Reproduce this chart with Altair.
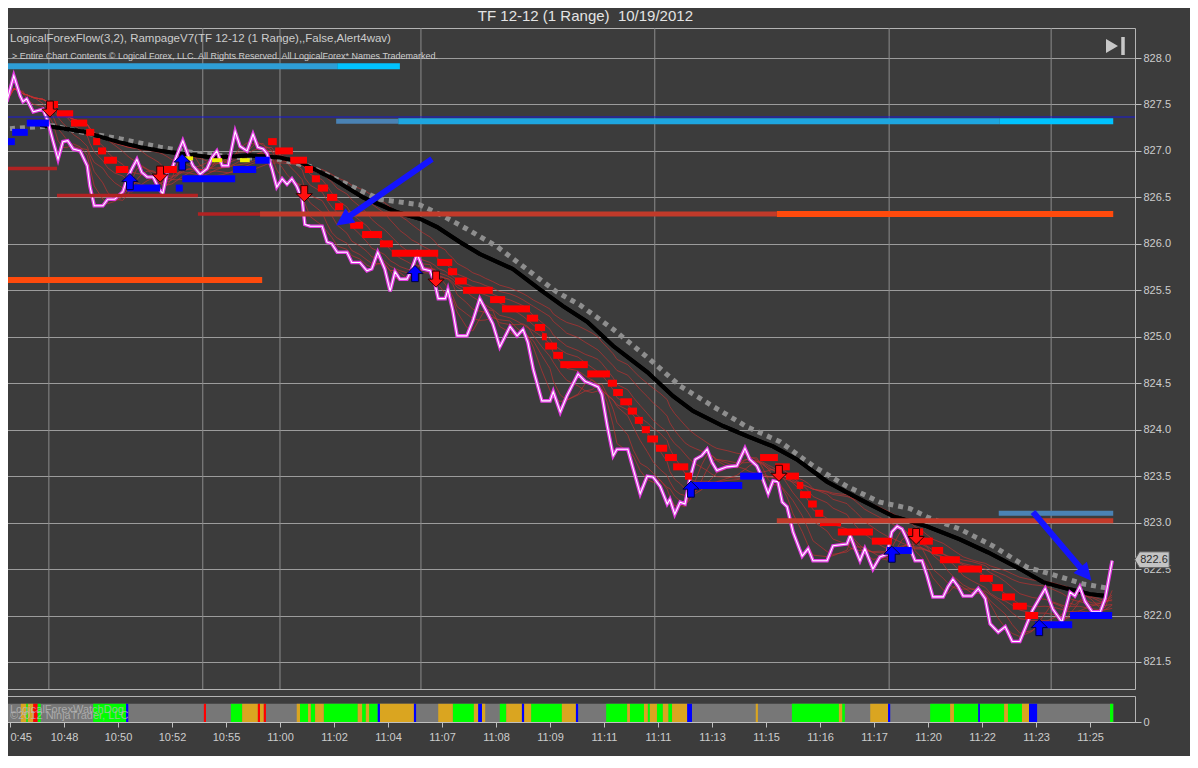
import altair as alt
import pandas as pd

# x = range-bar number (one label every 10 bars), y = price
time_labels = ["0:45", "10:48", "10:50", "10:52", "10:55", "11:00", "11:02", "11:04",
               "11:07", "11:08", "11:09", "11:11", "11:11", "11:13", "11:15", "11:16",
               "11:17", "11:20", "11:22", "11:23", "11:25"]
label_bars = list(range(0, 201, 10))
price_ticks = [821.5, 822.0, 822.5, 823.0, 823.5, 824.0, 824.5, 825.0, 825.5,
               826.0, 826.5, 827.0, 827.5, 828.0]
time_grid = [7.2, 35.7, 50.0, 76.1, 119.4, 162.8, 192.8]

price_path = [
    (-0.6, 827.53), (0.7, 827.81), (1.9, 827.59), (2.4, 827.53), (3.1, 827.56), (4.3, 827.42),
    (6.1, 827.45), (7.0, 827.32), (8.0, 827.10), (8.9, 826.91), (9.8, 827.10), (10.7, 827.11),
    (11.7, 827.02), (13.0, 827.00), (14.3, 826.84), (14.8, 826.62), (15.6, 826.41), (17.2, 826.41),
    (18.1, 826.48), (19.4, 826.48), (20.9, 826.56), (21.7, 826.70), (22.6, 826.81), (23.5, 826.91),
    (24.4, 826.77), (25.4, 826.72), (26.5, 826.72), (27.6, 826.59), (28.3, 826.54), (29.1, 826.77),
    (30.0, 826.81), (30.9, 826.95), (32.0, 827.11), (33.0, 826.95), (33.9, 826.84), (35.2, 826.75),
    (36.5, 826.81), (37.4, 826.93), (38.3, 827.00), (39.3, 826.84), (40.4, 826.84), (41.7, 827.21),
    (42.6, 827.05), (43.9, 827.00), (45.0, 827.18), (45.9, 827.04), (46.9, 827.02), (47.6, 826.97),
    (48.5, 826.81), (49.4, 826.61), (50.4, 826.70), (51.3, 826.64), (52.2, 826.70), (53.1, 826.62),
    (54.1, 826.48), (54.6, 826.21), (55.6, 826.19), (57.8, 826.19), (58.7, 826.02), (59.6, 826.00),
    (60.6, 825.91), (62.4, 825.91), (63.3, 825.80), (64.8, 825.80), (66.1, 825.71), (67.0, 825.73),
    (68.1, 825.91), (69.4, 825.73), (70.4, 825.49), (71.3, 825.70), (72.2, 825.62), (73.5, 825.62),
    (74.4, 825.73), (75.4, 825.89), (76.5, 825.73), (77.8, 825.71), (78.7, 825.57), (79.3, 825.41),
    (80.6, 825.41), (81.1, 825.51), (82.0, 825.28), (82.8, 825.01), (84.6, 825.01), (85.7, 825.17),
    (87.0, 825.41), (88.0, 825.30), (89.4, 825.14), (90.7, 824.89), (92.6, 825.11), (93.9, 825.01),
    (95.0, 825.08), (95.9, 824.94), (96.9, 824.65), (98.5, 824.31), (100.0, 824.31), (100.6, 824.41),
    (101.9, 824.19), (103.1, 824.36), (105.2, 824.60), (106.5, 824.52), (107.8, 824.49), (108.9, 824.46),
    (109.6, 824.38), (110.6, 824.04), (111.7, 823.72), (112.4, 823.79), (114.4, 823.79), (115.4, 823.58),
    (116.7, 823.31), (118.0, 823.50), (119.1, 823.49), (120.4, 823.39), (121.7, 823.20), (122.2, 823.25),
    (123.1, 823.09), (124.1, 823.22), (125.0, 823.20), (125.9, 823.47), (126.9, 823.68), (128.1, 823.72),
    (129.1, 823.79), (130.0, 823.65), (130.9, 823.56), (132.8, 823.60), (134.6, 823.61), (136.1, 823.80),
    (137.0, 823.68), (138.3, 823.61), (139.4, 823.47), (140.4, 823.31), (141.3, 823.45), (142.2, 823.44),
    (143.0, 823.22), (143.9, 823.17), (145.0, 822.90), (146.7, 822.64), (147.8, 822.72), (148.7, 822.59),
    (151.3, 822.59), (152.4, 822.75), (155.0, 822.77), (155.6, 822.86), (156.5, 822.72), (157.4, 822.59),
    (158.3, 822.72), (159.8, 822.50), (161.1, 822.63), (162.4, 822.66), (163.3, 822.90), (164.3, 822.96),
    (165.2, 822.93), (166.1, 822.82), (167.0, 822.68), (167.6, 822.59), (168.9, 822.59), (169.8, 822.43),
    (170.9, 822.20), (172.8, 822.20), (173.7, 822.31), (174.6, 822.39), (175.6, 822.31), (176.5, 822.21),
    (178.1, 822.21), (179.3, 822.29), (180.6, 822.18), (181.5, 821.91), (183.0, 821.82), (184.3, 821.88),
    (185.6, 821.72), (187.0, 821.72), (189.3, 822.05), (191.7, 822.29), (193.1, 822.07), (194.8, 821.93),
    (195.7, 822.12), (196.3, 822.25), (197.2, 822.21), (198.1, 822.31), (199.1, 822.15), (200.4, 822.04),
    (201.9, 822.04), (202.8, 822.18), (204.1, 822.59),
]

fast_ma = [
    (5.6, 827.28), (13.5, 827.21), (19.8, 827.10), (24.1, 827.04), (29.1, 826.99), (37.6, 826.93),
    (44.4, 826.95), (50.0, 826.93), (53.7, 826.88), (59.8, 826.70), (65.4, 826.50), (71.7, 826.34),
    (75.9, 826.27), (79.1, 826.18), (83.3, 826.02), (87.0, 825.89), (93.1, 825.73), (98.1, 825.51),
    (102.4, 825.33), (106.9, 825.16), (111.7, 824.90), (118.0, 824.62), (122.8, 824.36), (126.5, 824.20),
    (132.0, 824.04), (136.5, 823.93), (141.3, 823.82), (145.7, 823.68), (151.3, 823.44), (157.4, 823.25),
    (163.5, 823.07), (169.8, 822.96), (175.9, 822.82), (181.1, 822.68), (187.4, 822.49), (191.3, 822.36),
    (195.7, 822.29), (200.0, 822.23), (203.1, 822.21),
]

slow_ma = [
    (0.0, 827.24), (8.0, 827.27), (13.5, 827.20), (20.4, 827.13), (27.8, 827.04), (35.2, 826.97),
    (42.6, 826.93), (50.0, 826.91), (55.6, 826.83), (62.4, 826.64), (68.5, 826.48), (75.9, 826.42),
    (80.2, 826.30), (84.6, 826.16), (90.2, 825.97), (96.3, 825.70), (101.3, 825.48), (105.6, 825.34),
    (111.7, 825.08), (118.0, 824.78), (124.1, 824.47), (130.2, 824.25), (136.5, 824.03), (142.6, 823.87),
    (148.7, 823.61), (155.0, 823.39), (161.1, 823.22), (166.7, 823.15), (169.8, 823.06), (175.9, 822.93),
    (182.0, 822.75), (188.3, 822.52), (193.1, 822.44), (198.7, 822.34), (203.7, 822.29),
]

# trailing stop blocks: (first bar, last bar, level)
trail_short = [
    (6.9, 8.9, 827.5), (8.7, 11.7, 827.4), (11.3, 14.3, 827.3), (14.1, 15.6, 827.2), (15.4, 16.7, 827.1),
    (16.3, 17.8, 827.0), (17.4, 19.8, 826.9), (19.6, 21.9, 826.8), (28.1, 30.9, 826.8), (47.8, 49.4, 827.1),
    (49.1, 52.4, 827.0), (51.9, 55.0, 826.9), (54.6, 56.1, 826.8), (55.9, 57.4, 826.7), (57.0, 58.9, 826.6),
    (58.7, 60.6, 826.5), (60.2, 61.7, 826.4), (61.5, 63.3, 826.3), (63.0, 65.4, 826.2), (65.2, 68.9, 826.1),
    (68.5, 70.9, 826.0), (70.7, 79.3, 825.9), (79.1, 81.9, 825.8), (81.1, 82.8, 825.7), (82.4, 84.6, 825.6),
    (83.9, 89.4, 825.5), (88.9, 91.7, 825.4), (91.1, 96.3, 825.3), (95.7, 97.8, 825.2), (97.2, 99.1, 825.1),
    (98.5, 99.4, 825.0), (99.1, 101.3, 824.9), (100.6, 102.4, 824.8), (101.9, 107.0, 824.7),
    (106.9, 111.1, 824.6), (110.7, 112.4, 824.5), (111.7, 113.5, 824.4), (113.0, 115.2, 824.3),
    (114.4, 116.1, 824.2), (115.7, 117.2, 824.1), (117.0, 118.5, 824.0), (118.0, 120.0, 823.9),
    (119.6, 121.7, 823.8), (121.3, 123.5, 823.7), (122.8, 125.6, 823.6), (125.0, 126.3, 823.5),
    (138.9, 142.2, 823.7), (141.7, 144.4, 823.6), (143.7, 146.1, 823.5), (145.7, 146.9, 823.4),
    (146.3, 148.3, 823.3), (147.8, 149.4, 823.2), (149.1, 150.6, 823.1), (150.0, 153.9, 823.0),
    (153.3, 159.8, 822.9), (159.6, 163.3, 822.8), (166.3, 169.1, 822.9), (168.5, 170.9, 822.8),
    (170.7, 172.8, 822.7), (172.2, 175.9, 822.6), (175.6, 180.0, 822.5), (179.6, 182.0, 822.4),
    (181.9, 183.9, 822.3), (183.7, 186.1, 822.2), (185.7, 188.3, 822.1), (188.0, 190.4, 822.0),
]
trail_long = [
    (-0.6, 0.9, 827.1), (0.4, 3.3, 827.2), (3.1, 7.2, 827.3), (21.7, 27.8, 826.6), (30.7, 32.0, 826.6),
    (31.9, 41.7, 826.7), (41.3, 45.6, 826.8), (45.4, 48.1, 826.9), (125.9, 135.6, 823.4),
    (135.2, 139.3, 823.5), (162.4, 167.0, 822.7), (189.8, 196.7, 821.9), (196.3, 204.1, 822.0),
]
# small yellow dashes of the flow indicator
flow_marks = [(31.9, 33.9, 826.92), (37.4, 39.3, 826.90), (42.6, 44.4, 826.90)]

sell_signals = [(7.4, 827.45), (27.8, 826.75), (54.5, 826.54), (78.9, 825.62), (142.4, 823.53), (167.8, 822.85)]
buy_signals = [(22.2, 826.67), (31.9, 826.88), (75.0, 825.68), (126.1, 823.36), (163.3, 822.66), (190.6, 821.87)]

# horizontal levels: (from bar, to bar, price, kind)
levels = [
    (-1.6, 208.33, 827.365, "navy"),
    (-0.4, 60.6, 827.91, "sky"), (60.6, 72.2, 827.91, "cyan"),
    (60.4, 71.9, 827.32, "steel"), (71.9, 183.3, 827.32, "deepsky"), (183.3, 204.3, 827.32, "cyan"),
    (-0.4, 8.7, 826.81, "darkred"), (8.7, 34.8, 826.52, "darkred"), (34.8, 46.3, 826.32, "darkred"),
    (46.3, 142.0, 826.32, "brick"), (142.0, 204.3, 826.32, "orangered"),
    (-0.4, 46.7, 825.61, "orangered"),
    (142.0, 204.3, 823.02, "brick"), (183.1, 204.3, 823.10, "steel"),
]
level_style = {
    "navy": ("#1818d8", 1.2), "sky": ("#2e9ed6", 6), "cyan": ("#00c3ff", 6), "steel": ("#4a82b4", 5),
    "deepsky": ("#1ea6e0", 6), "darkred": ("#b22222", 3.5), "brick": ("#c23a2a", 5), "orangered": ("#ff4a0c", 6),
}

# hand-drawn annotation arrows: start and head of each
note_arrow_1 = [(78.15, 826.913), (61.96, 826.262)]
note_arrow_2 = [(189.44, 823.114), (199.04, 822.459)]

last_price = 822.6

# watchdog strip: (from bar, to bar, state)
strip_extent = [(-0.4, 204.3)]
strip = [
    (2.0, 3.0, "o"), (3.0, 3.3, "g"), (3.3, 4.3, "o"), (4.3, 5.1, "r"), (5.1, 5.7, "g"), (15.4, 21.5, "g"),
    (21.5, 21.9, "b"), (35.9, 36.3, "r"), (40.9, 43.0, "g"), (43.0, 45.9, "o"), (45.9, 46.3, "r"),
    (46.3, 47.0, "o"), (47.0, 47.4, "r"), (53.1, 53.7, "o"), (53.7, 55.2, "g"), (55.2, 55.7, "o"),
    (55.7, 56.5, "g"), (56.5, 58.1, "o"), (58.1, 64.4, "g"), (64.4, 65.2, "o"), (65.2, 65.9, "g"),
    (65.9, 66.5, "o"), (66.5, 68.1, "g"), (68.1, 68.5, "b"), (68.5, 74.8, "o"), (74.8, 75.2, "b"),
    (79.3, 82.0, "o"), (82.0, 85.9, "g"), (85.9, 86.7, "o"), (86.7, 87.4, "b"), (87.4, 88.0, "o"),
    (90.7, 91.9, "g"), (91.9, 94.8, "o"), (94.8, 95.2, "b"), (95.2, 96.5, "o"), (96.5, 102.2, "g"),
    (102.2, 104.8, "o"), (104.8, 105.2, "b"), (110.4, 114.3, "g"), (114.3, 114.8, "o"), (114.8, 117.4, "g"),
    (117.4, 118.1, "o"), (118.1, 118.5, "g"), (118.5, 119.8, "o"), (119.8, 120.9, "g"), (120.9, 121.9, "o"),
    (121.9, 122.6, "g"), (122.6, 125.4, "o"), (125.4, 126.3, "b"), (138.1, 138.5, "o"), (144.8, 153.5, "g"),
    (153.5, 154.1, "o"), (154.1, 154.6, "g"), (159.3, 162.6, "o"), (162.6, 163.0, "b"), (170.4, 174.1, "g"),
    (174.1, 174.8, "o"), (174.8, 179.3, "g"), (179.3, 179.6, "b"), (179.6, 184.1, "g"), (184.1, 184.8, "o"),
    (184.8, 187.4, "g"), (187.4, 188.7, "o"), (188.7, 190.2, "b"), (203.7, 204.3, "g"),
]
state_colors = {"g": "#00ff00", "o": "#daa520", "r": "#ff0000", "b": "#0000ff"}

FONT = "Liberation Sans"
BG = "#3c3c3c"
TXT = "#cdcdcd"
W = 1133

xs = alt.Scale(domain=[-1.48, 208.33], nice=False, zero=False)
ys = alt.Scale(domain=[821.209, 828.323], nice=False, zero=False)
y_axis = alt.Axis(orient="right", values=price_ticks, format=".1f", grid=True, gridColor="#9c9c9c",
                  gridWidth=1, domain=False, tickColor="#c0c0c0", tickSize=6, labelColor=TXT,
                  labelFontSize=11, labelFont=FONT, labelPadding=2)

price_df = pd.DataFrame(price_path, columns=["bar", "price"])
fast_df = pd.DataFrame(fast_ma, columns=["bar", "price"])
slow_df = pd.DataFrame(slow_ma, columns=["bar", "price"])
short_df = pd.DataFrame(trail_short, columns=["b0", "b1", "price"])
long_df = pd.DataFrame(trail_long, columns=["b0", "b1", "price"])
flow_df = pd.DataFrame(flow_marks, columns=["b0", "b1", "price"])
sell_df = pd.DataFrame(sell_signals, columns=["bar", "price"])
buy_df = pd.DataFrame(buy_signals, columns=["bar", "price"])
level_df = pd.DataFrame(levels, columns=["b0", "b1", "price", "kind"])
grid_df = pd.DataFrame({"bar": time_grid})
one = pd.DataFrame({"price": [last_price]})


def X(f):
    return alt.X(f, type="quantitative", scale=xs, axis=None)


def Y(f):
    return alt.Y(f, type="quantitative", scale=ys, axis=y_axis, title=None)


vgrid = alt.Chart(grid_df).mark_rule(color="#8c8c8c", strokeWidth=1).encode(x=X("bar"))

fans = []
for k in [2, 4, 7, 10, 14, 18, 23, 28]:
    fans.append(
        alt.Chart(price_df).transform_window(
            avg="mean(price)", frame=[-k, 0], sort=[alt.SortField("bar")]
        ).mark_line(color="#c03030", strokeWidth=0.9, opacity=0.75).encode(x=X("bar"), y=Y("avg"), order="bar:Q")
    )

slow = alt.Chart(slow_df).mark_line(color="#8e8e8e", strokeWidth=5, strokeDash=[5, 5]).encode(
    x=X("bar"), y=Y("price"))
fast = alt.Chart(fast_df).mark_line(color="#000000", strokeWidth=4).encode(x=X("bar"), y=Y("price"))

price_glow = alt.Chart(price_df).mark_line(color="#e43ce4", strokeWidth=3.6).encode(
    x=X("bar"), y=Y("price"), order="bar:Q")
price_core = alt.Chart(price_df).mark_line(color="#ffffff", strokeWidth=1.1).encode(
    x=X("bar"), y=Y("price"), order="bar:Q")

short_blocks = alt.Chart(short_df).mark_rule(color="#ff0000", strokeWidth=7, strokeCap="butt").encode(
    x=X("b0"), x2="b1", y=Y("price"))
long_blocks = alt.Chart(long_df).mark_rule(color="#0000ff", strokeWidth=7, strokeCap="butt").encode(
    x=X("b0"), x2="b1", y=Y("price"))
flow = alt.Chart(flow_df).mark_rule(color="#f0f000", strokeWidth=4, strokeCap="butt").encode(
    x=X("b0"), x2="b1", y=Y("price"))

down_arrow = "M-0.42,-1 L0.42,-1 L0.42,0 L1,0 L0,1 L-1,0 L-0.42,0 Z"
up_arrow = "M-0.42,1 L0.42,1 L0.42,0 L1,0 L0,-1 L-1,0 L-0.42,0 Z"
sells = alt.Chart(sell_df).mark_point(shape=down_arrow, size=260, filled=True, fill="#ff1010",
                                      stroke="#300000", strokeWidth=1, opacity=1).encode(x=X("bar"), y=Y("price"))
buys = alt.Chart(buy_df).mark_point(shape=up_arrow, size=260, filled=True, fill="#0000ff",
                                    stroke="#000040", strokeWidth=1, opacity=1).encode(x=X("bar"), y=Y("price"))

level_lines = []
for kind, (col, wid) in level_style.items():
    level_lines.append(
        alt.Chart(level_df).transform_filter(alt.datum.kind == kind)
        .mark_rule(color=col, strokeWidth=wid, strokeCap="butt")
        .encode(x=X("b0"), x2="b1", y=Y("price"))
    )

notes = []
for pts, ang in [(note_arrow_1, 235), (note_arrow_2, 140)]:
    d = pd.DataFrame(pts, columns=["bar", "price"])
    notes.append(alt.Chart(d).mark_line(color="#1414ff", strokeWidth=6).encode(x=X("bar"), y=Y("price")))
    notes.append(alt.Chart(d.tail(1)).mark_point(shape="M0,-1 L0.85,0.7 L-0.85,0.7 Z", size=420, angle=ang,
                                                 filled=True, color="#1414ff", opacity=1)
                 .encode(x=X("bar"), y=Y("price")))

tag = alt.Chart(one).mark_point(shape="M-1,0 L-0.72,-0.46 L1,-0.46 L1,0.46 L-0.72,0.46 Z", size=1190,
                                filled=True, fill="#c4c4c4", stroke="#5a5a5a", strokeWidth=1, opacity=1).encode(
    x=alt.value(W + 17), y=Y("price"))
tag_text = alt.Chart(one).mark_text(font=FONT, fontSize=11, color="#2c2c2c").encode(
    x=alt.value(W + 19), y=Y("price"), text=alt.Text("price:Q", format=".1f"))

dummy = pd.DataFrame({"a": [0]})
info1 = alt.Chart(dummy).mark_text(
    text="LogicalForexFlow(3,2), RampageV7(TF 12-12 (1 Range),,False,Alert4wav)",
    align="left", baseline="middle", font=FONT, fontSize=11.5, color=TXT).encode(x=alt.value(8), y=alt.value(11))
info2 = alt.Chart(dummy).mark_text(
    text="> Entire Chart Contents \u00a9 Logical Forex, LLC. All Rights Reserved. All LogicalForex* Names Trademarked.",
    align="left", baseline="middle", font=FONT, fontSize=9, color=TXT).encode(x=alt.value(10), y=alt.value(28))
play = alt.Chart(dummy).mark_point(shape="triangle-right", size=190, filled=True, color="#c8c8c8",
                                   opacity=1).encode(x=alt.value(1110), y=alt.value(18))
bar_icon = alt.Chart(dummy).mark_rule(color="#c8c8c8", strokeWidth=3.5).encode(
    x=alt.value(1121), y=alt.value(9), y2=alt.value(27))

main = alt.layer(
    fast, vgrid, *fans, slow, fast, price_glow, price_core, flow, short_blocks, long_blocks,
    *level_lines, sells, buys, *notes, tag, tag_text, info1, info2, play, bar_icon
).properties(width=W, height=661)

# lower panel: the watchdog strip
ext_df = pd.DataFrame(strip_extent, columns=["b0", "b1"])
strip_df = pd.DataFrame(strip, columns=["b0", "b1", "state"])
label_expr = "[" + ",".join("'%s'" % t for t in time_labels) + "][round(datum.value / 10)]"
ys2 = alt.Scale(domain=[0, 1], nice=False, zero=False)
x_axis2 = alt.Axis(values=label_bars, labelExpr=label_expr, grid=False, tickSize=5, tickColor="#c0c0c0",
                   domainColor="#c0c0c0", labelColor=TXT, labelFontSize=11, labelFont=FONT, labelPadding=4,
                   labelAlign=alt.condition("datum.value == 0", alt.value("left"), alt.value("center")),
                   labelFlush=False)
y_axis2 = alt.Axis(orient="right", values=[0], grid=False, domain=False, tickSize=6, tickColor="#c0c0c0",
                   labelColor=TXT, labelFontSize=11, labelFont=FONT, labelPadding=2)


def strip_layer(df, color):
    return alt.Chart(df).transform_calculate(lo="0", hi="0.7").mark_rect(color=color).encode(
        x=alt.X("b0:Q", scale=xs, axis=x_axis2, title=None), x2="b1",
        y=alt.Y("lo:Q", scale=ys2, axis=y_axis2, title=None), y2="hi:Q")


strip_layers = [strip_layer(ext_df, "#777777")]
for st, col in state_colors.items():
    strip_layers.append(strip_layer(strip_df[strip_df.state == st], col))

wd1 = alt.Chart(dummy).mark_text(text="LogicalForexWatchDog", align="left", baseline="middle", font=FONT,
                                 fontSize=11, color="#b8b8b8", opacity=0.8).encode(x=alt.value(8), y=alt.value(14))
wd2 = alt.Chart(dummy).mark_text(text="\u00a92012 NinjaTrader, LLC", align="left", baseline="middle", font=FONT,
                                 fontSize=11, color="#b8b8b8", opacity=0.8).encode(x=alt.value(8), y=alt.value(20))

lower = alt.layer(*strip_layers, wd1, wd2).properties(width=W, height=26)

chart = alt.vconcat(main, lower, spacing=5).properties(
    title=alt.TitleParams("TF 12-12 (1 Range)\u00a0\u00a010/19/2012", font=FONT, fontSize=15,
                          fontWeight="normal", color="#e4e4e4", anchor="middle", offset=3),
    padding={"left": -9, "top": 1, "right": 18, "bottom": 13},
    background=BG,
).configure_view(stroke="#b4b4b4", strokeWidth=1)

chart.save("out.html", embed_options={"renderer": "svg", "actions": False})
